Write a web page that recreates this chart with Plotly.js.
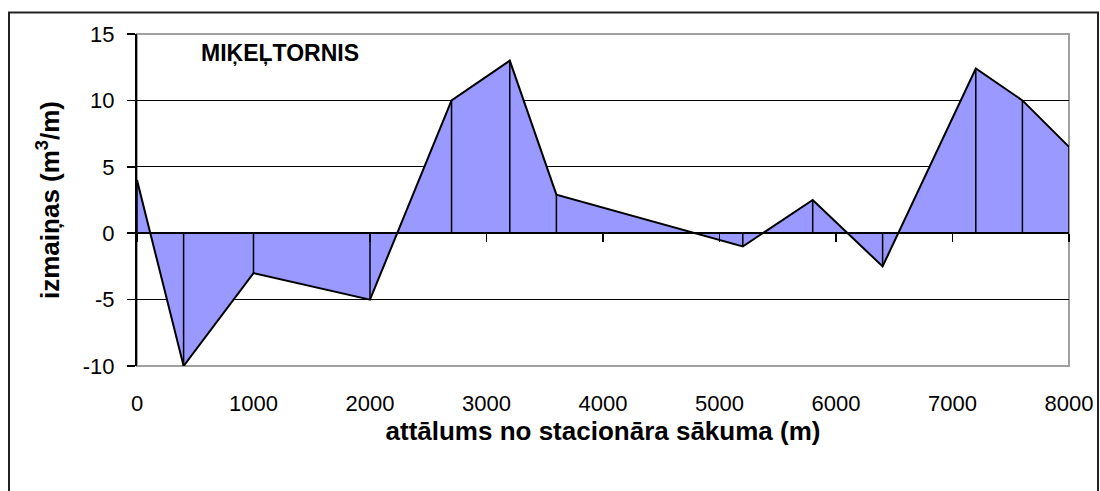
<!DOCTYPE html>
<html>
<head>
<meta charset="utf-8">
<script src="https://cdn.plot.ly/plotly-3.0.1.min.js"></script>
<style>
  html, body { margin: 0; padding: 0; background: #ffffff; }
  #chart { width: 1100px; height: 491px; }
</style>
</head>
<body>
<div id="chart"></div>
<script>
// Distance from the start of the stationary section (m)
const distance = [0, 400, 1000, 2000, 2700, 3200, 3600, 5200, 5800, 6400, 7200, 7600, 8000];
// Change per metre (m3/m)
const change = [4, -10, -3, -5, 10, 13, 2.9, -1, 2.5, -2.5, 12.4, 10, 6.5];

const xTicks = [0, 1000, 2000, 3000, 4000, 5000, 6000, 7000, 8000];
const yTicks = [-10, -5, 0, 5, 10, 15];

const chartTitle = 'MIĶEĻTORNIS';
const xTitle = 'attālums no stacionāra sākuma (m)';
const yTitle = 'izmaiņas (m<sup>3</sup>/m)';

const FONT = 'Arial, "Liberation Sans", sans-serif';

// Drop lines from every point down (or up) to the zero line
const dropUp = change.map(v => (v < 0 ? -v : 0));
const dropDown = change.map(v => (v > 0 ? v : 0));

const area = {
  type: 'scatter',
  mode: 'lines',
  x: distance,
  y: change,
  fill: 'tozeroy',
  fillcolor: '#9999FF',
  line: { color: '#000000', width: 2 },
  error_y: {
    type: 'data',
    symmetric: false,
    array: dropUp,
    arrayminus: dropDown,
    width: 0,
    thickness: 1.5,
    color: '#000000'
  },
  hoverinfo: 'x+y',
  showlegend: false
};

// Zero axis carrying the tick marks
const zeroAxis = {
  type: 'scatter',
  mode: 'lines',
  x: [xTicks[0], xTicks[xTicks.length - 1]],
  y: [0, 0],
  xaxis: 'x2',
  line: { color: 'rgba(0,0,0,0)', width: 0 },
  hoverinfo: 'skip',
  showlegend: false
};

const L = 137, R = 1069, T = 34, B = 366;
const W = R - L, H = B - T;
const px = v => (v - L) / W;
const py = v => (B - v) / H;

const layout = {
  width: 1100,
  height: 491,
  margin: { l: L, r: 1100 - R, t: T, b: 491 - B, pad: 0 },
  paper_bgcolor: '#ffffff',
  plot_bgcolor: '#ffffff',
  font: { family: FONT, color: '#000000', size: 22 },
  xaxis: {
    range: [0, 8000],
    tickvals: xTicks,
    ticktext: xTicks.map(String),
    showgrid: false,
    zeroline: false,
    showline: false,
    ticks: '',
    ticklabelstandoff: 22,
    tickfont: { size: 22, family: FONT },
    title: { text: xTitle, font: { size: 26, family: FONT, weight: 'bold' }, standoff: 3 },
    fixedrange: true
  },
  xaxis2: {
    range: [0, 8000],
    overlaying: 'x',
    anchor: 'free',
    position: (0 - yTicks[0]) / (yTicks[yTicks.length - 1] - yTicks[0]),
    side: 'bottom',
    tickvals: xTicks,
    showticklabels: false,
    ticks: 'outside',
    ticklen: 8,
    tickwidth: 1.5,
    tickcolor: '#000000',
    showline: true,
    linecolor: '#000000',
    linewidth: 2,
    showgrid: false,
    zeroline: false,
    fixedrange: true
  },
  yaxis: {
    range: [-10, 15],
    tickvals: yTicks,
    ticktext: yTicks.map(String),
    showgrid: true,
    gridcolor: '#000000',
    gridwidth: 1,
    zeroline: false,
    showline: true,
    linecolor: '#000000',
    linewidth: 2,
    ticks: 'outside',
    ticklen: 8,
    tickwidth: 1.5,
    tickcolor: '#000000',
    ticklabelstandoff: 8,
    tickfont: { size: 22, family: FONT },
    title: { text: yTitle, font: { size: 26, family: FONT, weight: 'bold' }, standoff: 16 },
    fixedrange: true
  },
  shapes: [
    // plot area border
    {
      type: 'rect', xref: 'paper', yref: 'paper',
      x0: 0, x1: 1, y0: 0, y1: 1,
      line: { color: '#a0a0a0', width: 2 },
      layer: 'between'
    },
    // outer chart frame
    {
      type: 'rect', xref: 'paper', yref: 'paper',
      x0: px(9), x1: px(1098), y0: py(500), y1: py(12.5),
      line: { color: '#222222', width: 2 },
      layer: 'below'
    }
  ],
  annotations: [
    {
      text: '<b>' + chartTitle + '</b>',
      xref: 'paper', yref: 'paper',
      x: px(199), y: py(53),
      xanchor: 'left', yanchor: 'middle',
      showarrow: false,
      font: { size: 23, family: FONT, color: '#000000' }
    }
  ]
};

Plotly.newPlot('chart', [area, zeroAxis], layout, { displayModeBar: false, staticPlot: true });
</script>
</body>
</html>
